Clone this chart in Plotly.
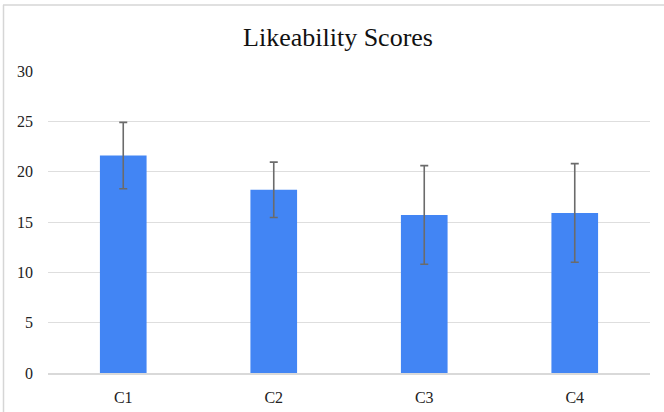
import plotly.graph_objects as go

categories = ["C1", "C2", "C3", "C4"]
scores = [21.6, 18.2, 15.7, 15.9]
errors = [3.3, 2.75, 4.9, 4.9]
y_ticks = [0, 5, 10, 15, 20, 25, 30]

W, H = 664, 412
L, R, T, B = 48, 14, 71, 39
pw, ph = W - L - R, H - T - B

def px_x(px):
    return (px - L) / pw

def px_y(py):
    return (H - B - py) / ph

fig = go.Figure()
fig.add_trace(go.Bar(
    x=categories, y=scores,
    marker=dict(color="#4285F4", line=dict(width=0)),
    width=0.31,
    error_y=dict(type="data", array=errors, visible=True,
                 color="#6b6b6b", thickness=1.6, width=4),
))

border = "#d6d6d6"
fig.add_shape(type="line", xref="paper", yref="paper",
              x0=px_x(3), x1=px_x(664), y0=px_y(5), y1=px_y(5),
              line=dict(color=border, width=1.5))
fig.add_shape(type="line", xref="paper", yref="paper",
              x0=px_x(3.5), x1=px_x(3.5), y0=px_y(5), y1=px_y(412),
              line=dict(color=border, width=1.5))

fig.update_layout(
    width=W, height=H,
    margin=dict(l=L, r=R, t=T, b=B, autoexpand=False),
    paper_bgcolor="white", plot_bgcolor="white",
    showlegend=False,
    title=dict(text="Likeability Scores", x=338 / W, xanchor="center",
               y=1 - 37 / H, yanchor="middle",
               font=dict(family="Liberation Serif", size=26, color="#111111")),
    font=dict(family="Liberation Serif", size=16, color="#222222"),
    bargap=0.69,
)
fig.update_xaxes(showgrid=False, showline=True, linecolor="#d9d9d9", linewidth=1.5,
                 ticks="", ticklabelstandoff=9, automargin=False,
                 tickfont=dict(size=16, color="#222222"))
fig.update_yaxes(range=[0, 30], tickvals=y_ticks, showgrid=True, gridcolor="#dedede",
                 gridwidth=1.2, zeroline=False, showline=False, ticks="",
                 ticklabelstandoff=14, automargin=False,
                 tickfont=dict(size=16, color="#222222"))

fig.write_html("out.html", config={"displayModeBar": False},
               post_script="document.body.style.margin='0';document.documentElement.style.margin='0';")
